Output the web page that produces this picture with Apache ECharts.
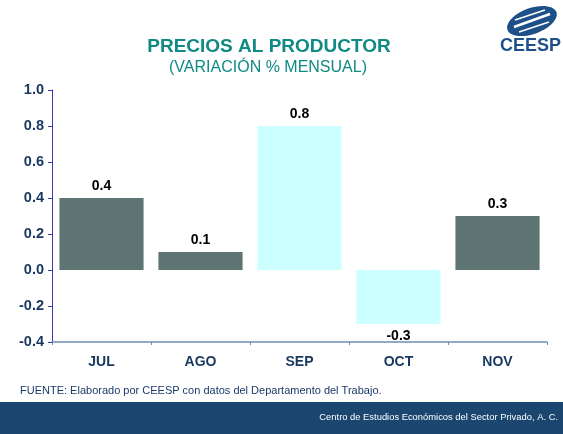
<!DOCTYPE html>
<html>
<head>
<meta charset="utf-8">
<style>
  html, body { margin: 0; padding: 0; background: #fff; }
  #chart { width: 563px; height: 434px; }
</style>
<script src="https://cdn.jsdelivr.net/npm/echarts@6/dist/echarts.min.js"></script>
</head>
<body>
<div id="chart"></div>
<script>
// data
var months = ['JUL', 'AGO', 'SEP', 'OCT', 'NOV']
var values = [0.4, 0.1, 0.8, -0.3, 0.3]
var highlighted = [false, false, true, true, false] // light cyan bars

var darkBar = '#5e7473'
var lightBar = '#ccffff'
var navy = '#17375e'
var font = 'Liberation Sans, Arial'

var chart = echarts.init(document.getElementById('chart'))
chart.setOption({
  animation: false,
  grid: { left: 52, right: 16, top: 90, bottom: 92 },
  xAxis: {
    type: 'category',
    data: months,
    axisLine: { onZero: false, lineStyle: { color: '#6d8fb5', width: 1.5 } },
    axisTick: { show: true, length: 3, lineStyle: { color: '#6d8fb5' } },
    axisLabel: { color: navy, fontWeight: 'bold', fontSize: 14, fontFamily: font, margin: 13 }
  },
  yAxis: {
    type: 'value',
    min: -0.4,
    max: 1.0,
    interval: 0.2,
    splitLine: { show: false },
    axisLine: { show: true, lineStyle: { color: '#3a3ab0', width: 1 } },
    axisTick: { show: true, length: 4, lineStyle: { color: '#3a3ab0' } },
    axisLabel: {
      color: navy, fontWeight: 'bold', fontSize: 14.5, fontFamily: font, margin: 8,
      formatter: function (v) { return v.toFixed(1) }
    }
  },
  series: [{
    type: 'bar',
    barWidth: '85%',
    data: values.map(function (v, i) {
      return {
        value: v,
        itemStyle: { color: highlighted[i] ? lightBar : darkBar },
        label: { position: v < 0 ? 'bottom' : 'top' }
      }
    }),
    label: {
      show: true,
      color: '#000',
      fontWeight: 'bold',
      fontSize: 14,
      fontFamily: font,
      distance: 5,
      formatter: function (p) { return p.value.toFixed(1) }
    }
  }],
  title: [{
    text: 'PRECIOS AL PRODUCTOR',
    left: 264, top: 32, textAlign: 'center',
    textStyle: { color: '#0f8a84', fontSize: 19, fontWeight: 'bold', fontFamily: font }
  }, {
    text: '(VARIACIÓN % MENSUAL)',
    left: 263, top: 55, textAlign: 'center',
    textStyle: { color: '#0f8a84', fontSize: 16, fontWeight: 'normal', fontFamily: font }
  }],
  graphic: [
    { type: 'rect', shape: { x: 0, y: 402, width: 563, height: 32 }, style: { fill: '#1b4670' } },
    { type: 'text', left: 20, top: 385, style: { text: 'FUENTE: Elaborado por CEESP con datos del Departamento del Trabajo.', fill: '#1b3a6b', font: '11px ' + font } },
    { type: 'text', right: 5, top: 413, style: { text: 'Centro de Estudios Económicos del Sector Privado, A. C.', fill: '#ffffff', font: '9.4px ' + font } },
    // logo
    { type: 'ellipse', shape: { cx: 532, cy: 21, rx: 26, ry: 13 }, rotation: 0.35, originX: 532, originY: 21, style: { fill: '#1d4f88' } },
    { type: 'line', shape: { x1: 514, y1: 27, x2: 550, y2: 14 }, style: { stroke: '#fff', lineWidth: 2.5 } },
    { type: 'line', shape: { x1: 515, y1: 20, x2: 545, y2: 10 }, style: { stroke: '#fff', lineWidth: 1.5 } },
    { type: 'line', shape: { x1: 519, y1: 32, x2: 549, y2: 22 }, style: { stroke: '#fff', lineWidth: 1.5 } },
    { type: 'text', left: 500, top: 37, style: { text: 'CEESP', fill: '#1d4f88', font: 'bold 18px ' + font } }
  ]
})
</script>
</body>
</html>
